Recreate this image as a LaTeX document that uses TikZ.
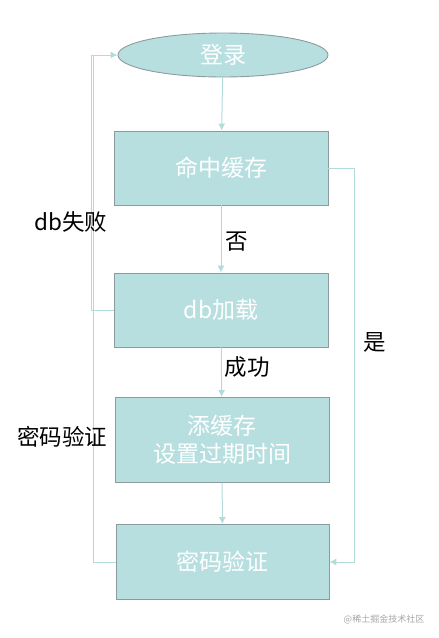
\documentclass[tikz,border=0pt]{standalone}
\usepackage{fontspec}
\setmainfont{Noto Sans CJK SC}
\usetikzlibrary{arrows.meta,positioning,calc,shapes.geometric}
\definecolor{boxfill}{HTML}{B7DFE0}
\definecolor{boxline}{HTML}{8C9C9E}
\definecolor{linkc}{HTML}{B2DCDA}

\begin{document}
\begin{tikzpicture}[x=1pt,y=-1pt,>={Latex[length=7pt,width=7pt]},
   bx/.style={rectangle,draw=boxline,fill=boxfill,text=white,line width=0.9pt,
     minimum width=214pt,minimum height=74pt,inner sep=0pt,align=center,
     font=\fontsize{23}{28}\selectfont},
   lnk/.style={draw=linkc,line width=1pt},
   lbl/.style={text=black,inner sep=0pt,font=\fontsize{22.5}{26}\selectfont}]
  \useasboundingbox (0,0) rectangle (439,638);
  \node[bx,ellipse,minimum width=210pt,minimum height=44pt] (login) at (223,55) {登录};
  \node[bx] (hit)   at (221,168) {命中缓存};
  \node[bx] (load)  at (221,310) {db加载};
  \node[bx,minimum height=85pt] (cache) at (222,440) {添缓存\\设置过期时间};
  \node[bx,minimum width=213pt,minimum height=75pt] (check) at (222.5,562) {密码验证};
  \coordinate (lftA) at (91,0);
  \coordinate (lftB) at (93,0);
  \coordinate (rgt)  at (354,0);
  % main flow
  \draw[->,lnk] (login) -- (hit);
  \draw[->,lnk] (hit) -- (load);
  \draw[->,lnk] (load) -- (cache);
  \draw[->,lnk] (cache) -- (check);
  % loops
  \draw[->,lnk] (load.west) -- (load.west -| lftA) -- (login.west -| lftA) -- (login.west);
  \draw[lnk] (check.west) -- (check.west -| lftB) -- ($(login.west -| lftB)+(0,1)$);
  \draw[->,lnk] (hit.east) -- (hit.east -| rgt) -- (check.east -| rgt) -- (check.east);
  % labels
  \node[lbl] (fail) at (71,222) {db失败};
  \node[lbl] (no)   at (237,242) {否};
  \node[lbl] (ok)   at (247,367) {成功};
  \node[lbl] (yes)  at (375,342) {是};
  \node[lbl] (pwd)  at (62,437) {密码验证};
  \node[text=black!35,inner sep=0pt,font=\fontsize{9}{11}\selectfont] (mark) at (384,619) {@稀土掘金技术社区};
\end{tikzpicture}
\end{document}
